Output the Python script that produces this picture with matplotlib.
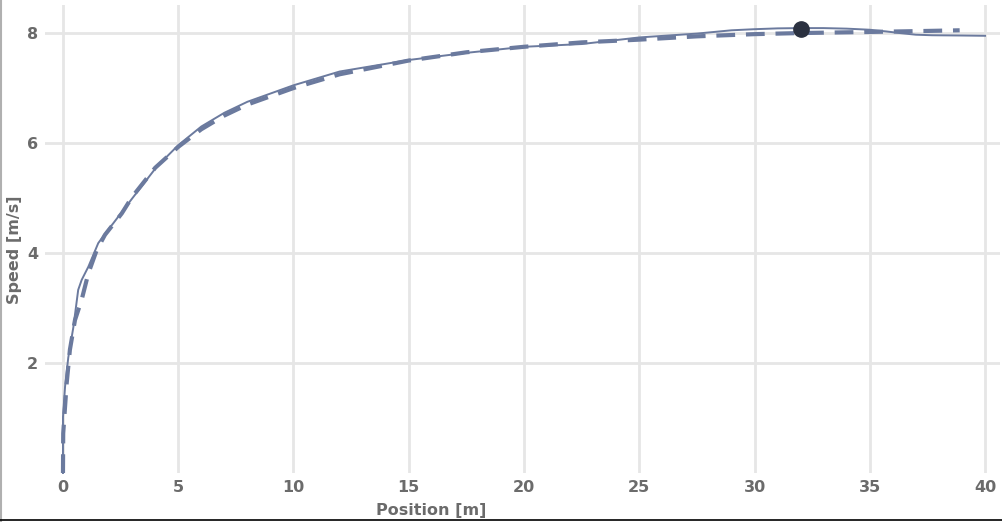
import numpy as np
import matplotlib
matplotlib.use("Agg")
import matplotlib.pyplot as plt
from matplotlib.lines import Line2D

# measured speed (solid)
pos_meas = [0, 0.0, 0.09, 0.23, 0.45, 0.66, 0.81, 1.1, 1.53, 1.9, 2.18, 2.98, 4.07, 5, 6, 7, 8,
            10, 12, 15, 17.5, 20, 22.5, 25, 27.5, 29, 30, 31, 32, 33, 34, 35, 35.7, 36.3, 37, 37.7, 39, 40]
speed_meas = [0, 1.02, 1.57, 2.1, 2.65, 3.33, 3.51, 3.75, 4.18, 4.39, 4.54, 4.98, 5.57, 5.96, 6.3, 6.55, 6.75,
              7.05, 7.3, 7.51, 7.64, 7.75, 7.8, 7.92, 7.99, 8.05, 8.07, 8.085, 8.09, 8.09, 8.08, 8.06, 8.03,
              8.0, 7.97, 7.96, 7.955, 7.95]

# model speed (dashed)
pos_model = [0, 0.01, 0.16, 0.3, 0.52, 0.81, 1.1, 1.46, 1.82, 2.55, 3.0, 4.0, 5, 6, 7, 8, 10, 12,
             15, 17.5, 20, 22.5, 25, 27.5, 30, 32, 35, 37.7, 38.9]
speed_model = [0, 0.72, 1.63, 2.24, 2.78, 3.15, 3.63, 4.05, 4.33, 4.72, 5.02, 5.55, 5.93, 6.25, 6.5, 6.7,
               7.0, 7.25, 7.5, 7.65, 7.75, 7.83, 7.88, 7.94, 7.98, 8.0, 8.02, 8.04, 8.05]

# top speed point
peak_pos = [32.0]
peak_speed = [8.08]

line_col = "#6b7a9e"
txt_col = "#6b6b6b"
grid_col = "#e6e6e6"

plt.rcParams['font.family'] = ['DejaVu Sans']

fig = plt.figure(figsize=(10.02, 5.22), dpi=100)
ax = fig.add_axes([45 / 1002, (522 - 473) / 522, 955 / 1002, 468 / 522])

ax.plot(pos_model, speed_model, color=line_col, lw=3.0, dashes=(4.5, 2.6), clip_on=False, zorder=3)
ax.plot(pos_meas, speed_meas, color=line_col, lw=1.4, clip_on=False, zorder=4)
ax.plot(peak_pos, peak_speed, 'o', color="#2b3140", ms=11, zorder=5)

ax.set_xlim(-0.78, 40.65)
ax.set_ylim(0, 8.51)
ax.set_xticks([0, 5, 10, 15, 20, 25, 30, 35, 40])
ax.set_yticks([2, 4, 6, 8])
ax.grid(True, color=grid_col, lw=2)
ax.set_axisbelow(True)
for s in ax.spines.values():
    s.set_visible(False)
ax.tick_params(length=0, labelsize=11.5, labelcolor=txt_col, pad=5)
for lab in ax.get_xticklabels() + ax.get_yticklabels():
    lab.set_fontweight('bold')

ax.set_xlabel("Position [m]", fontsize=11.5, fontweight='bold', color=txt_col)
ax.xaxis.set_label_coords(0.404, -0.065)
ax.set_ylabel("Speed [m/s]", fontsize=11.5, fontweight='bold', color=txt_col)
ax.yaxis.set_label_coords(-0.024, 0.476)

# screenshot edges
fig.add_artist(Line2D([0.001, 0.001], [0, 1], color="#b0b0b0", lw=1.5, transform=fig.transFigure))
fig.add_artist(Line2D([0, 1], [2.5 / 522, 2.5 / 522], color="#000000", lw=1.2, transform=fig.transFigure))

fig.savefig("out.png", dpi=100)
